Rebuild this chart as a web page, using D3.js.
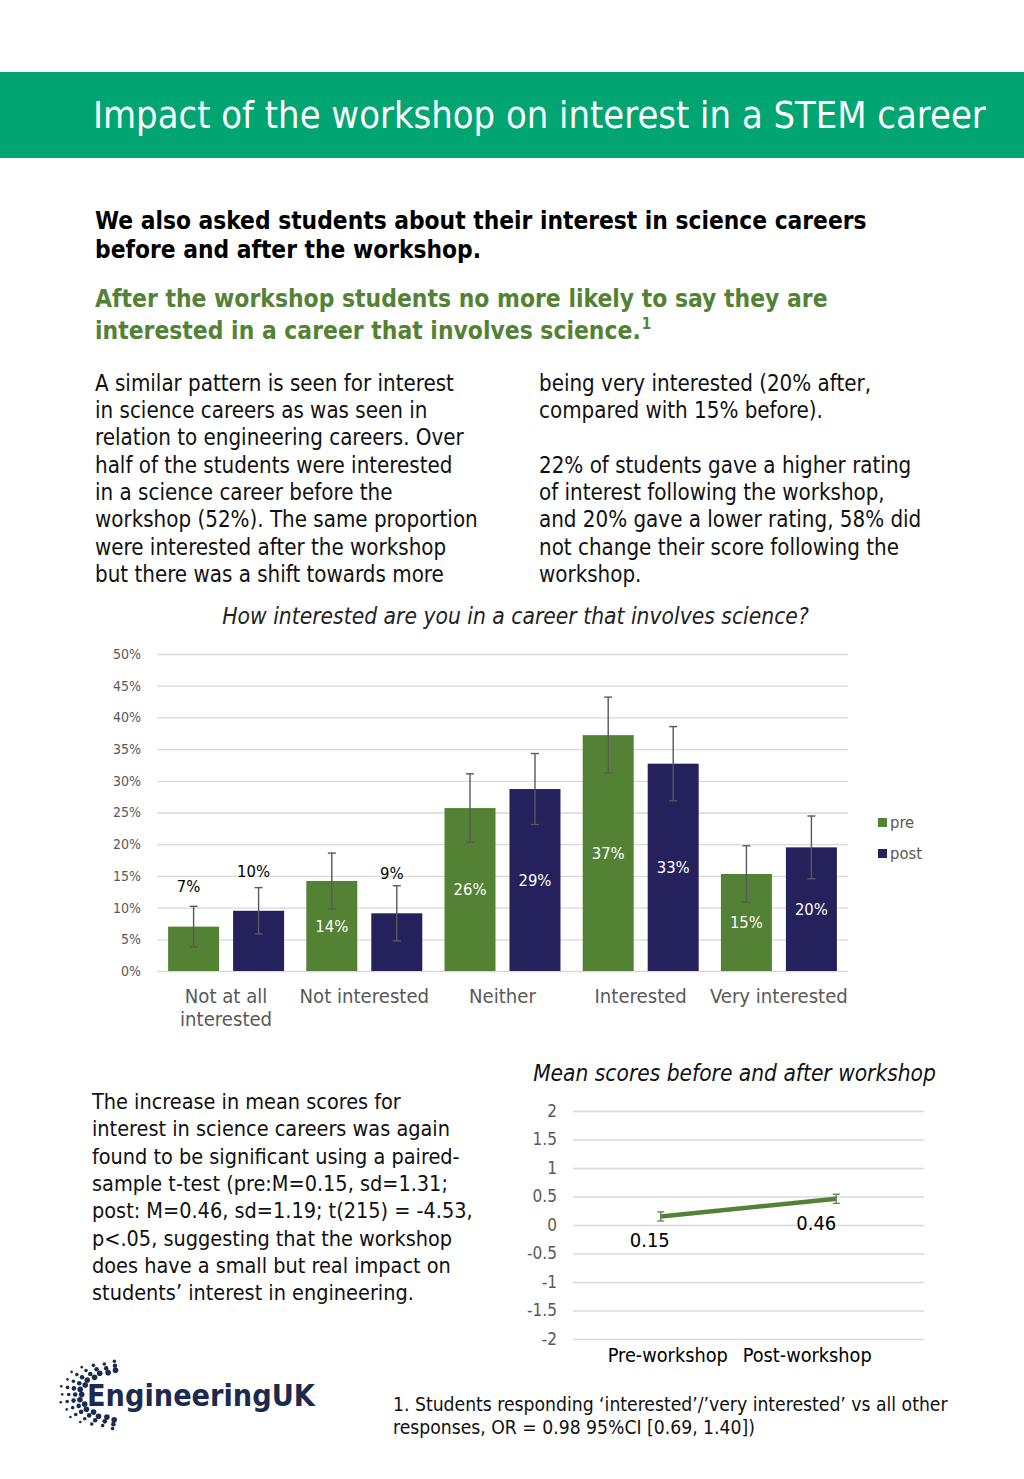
<!DOCTYPE html>
<html><head><meta charset="utf-8">
<script src="https://cdn.jsdelivr.net/npm/d3@7"></script>
<style>body{margin:0;background:#fff}svg{display:block}</style>
</head><body><svg id="c" width="1024" height="1479"></svg>
<script>
// ---------------- data ----------------
const categories = ["Not at all interested","Not interested","Neither","Interested","Very interested"];
const categoryLines = [["Not at all","interested"],["Not interested"],["Neither"],["Interested"],["Very interested"]];
const series = ["pre","post"];
const preValues = [7.0, 14.2, 25.7, 37.2, 15.3];
const postValues = [9.5, 9.1, 28.7, 32.7, 19.5];
const preErr = [3.2, 4.4, 5.4, 6.0, 4.45];
const postErr = [3.65, 4.35, 5.6, 5.85, 4.95];
const yTicks = [0, 5, 10, 15, 20, 25, 30, 35, 40, 45, 50];

const meanCategories = ["Pre-workshop", "Post-workshop"];
const meanValues = [0.15, 0.46];
const meanErr = [0.08, 0.08];
const meanTicks = [2, 1.5, 1, 0.5, 0, -0.5, -1, -1.5, -2];

const headerTitle = "Impact of the workshop on interest in a STEM career";
const introLines = ["We also asked students about their interest in science careers", "before and after the workshop."];
const keyLines = ["After the workshop students no more likely to say they are", "interested in a career that involves science."];
const leftCol = ["A similar pattern is seen for interest","in science careers as was seen in","relation to engineering careers. Over","half of the students were interested","in a science career before the","workshop (52%). The same proportion","were interested after the workshop","but there was a shift towards more"];
const rightCol = ["being very interested (20% after,","compared with 15% before).","","22% of students gave a higher rating","of interest following the workshop,","and 20% gave a lower rating, 58% did","not change their score following the","workshop."];
const lowerPara = ["The increase in mean scores for","interest in science careers was again","found to be significant using a paired-","sample t-test (pre:M=0.15, sd=1.31;","post: M=0.46, sd=1.19; t(215) = -4.53,","p<.05, suggesting that the workshop","does have a small but real impact on","students\u2019 interest in engineering."];
const footLines = ["1. Students responding \u2018interested\u2019/\u2019very interested\u2019 vs all other","responses, OR = 0.98 95%CI [0.69, 1.40])"];
const chartTitle = "How interested are you in a career that involves science?";
const meanTitle = "Mean scores before and after workshop";

// ---------------- style ----------------
const FONT = "'DejaVu Sans Condensed','DejaVu Sans',sans-serif";
const GREEN = "#548235", NAVY = "#24215c", HEAD = "#00a572", GRID = "#d9d9d9", AX = "#595959";

const svg = d3.select("#c");

function fitSize(text, width, weight, style) {
  const t = svg.append("text").attr("font-family", FONT).attr("font-size", 100)
    .attr("font-weight", weight || "normal").attr("font-style", style || "normal")
    .style("font-stretch", "condensed").text(text);
  const w = t.node().getComputedTextLength();
  t.remove();
  return 100 * width / w;
}
function lines(g, arr, x, y0, step, size, opts) {
  opts = opts || {};
  g.selectAll(null).data(arr).join("text")
    .attr("x", x).attr("y", (d, i) => y0 + i * step)
    .attr("font-family", FONT).style("font-stretch", "condensed")
    .attr("font-size", size).attr("font-weight", opts.weight || "normal")
    .attr("font-style", opts.style || "normal")
    .attr("fill", opts.fill || "#111").attr("text-anchor", opts.anchor || "start")
    .text(d => d);
}

// ---------------- header ----------------
svg.append("rect").attr("x", 0).attr("y", 72).attr("width", 1024).attr("height", 86).attr("fill", HEAD);
lines(svg, [headerTitle], 93, 128, 0, fitSize(headerTitle, 893), { fill: "#fff" });

// ---------------- intro text ----------------
const introSize = fitSize(introLines[0], 772, "bold");
lines(svg, introLines, 95, 229, 29, introSize, { weight: "bold", fill: "#000" });
const keySize = fitSize(keyLines[0], 733, "bold");
lines(svg, keyLines, 95, 307, 31.5, keySize, { weight: "bold", fill: GREEN });
{
  const t = svg.append("text").attr("font-family", FONT).style("font-stretch", "condensed")
    .attr("font-weight", "bold").attr("font-size", keySize).text(keyLines[1]);
  const w = t.node().getComputedTextLength(); t.remove();
  svg.append("text").attr("x", 95 + w + 1).attr("y", 329).attr("font-family", FONT)
    .style("font-stretch", "condensed").attr("font-weight", "bold")
    .attr("font-size", keySize * 0.62).attr("fill", GREEN).text("1");
}
const bodySize = fitSize(leftCol[5], 383);
lines(svg, leftCol, 95, 390.7, 27.3, bodySize);
lines(svg, rightCol, 539, 390.7, 27.3, bodySize);

// ---------------- bar chart ----------------
const cTitleSize = fitSize(chartTitle, 587, "normal", "italic");
lines(svg, [chartTitle], 515.5, 624, 0, cTitleSize, { style: "italic", anchor: "middle", fill: "#222" });

const x0 = d3.scaleBand().domain(categories).range([157, 848]).paddingInner(0).paddingOuter(0);
const x1 = d3.scaleBand().domain(series).range([0, x0.bandwidth()]).paddingInner(0.2154).paddingOuter(0.171);
const y = d3.scaleLinear().domain([0, 50]).range([971, 654]);

const bc = svg.append("g");
const yAxis = d3.axisLeft(y).tickValues(yTicks).tickFormat(d => d + "%").tickSize(-(848 - 157)).tickPadding(16);
const yg = bc.append("g").attr("transform", "translate(157,0)").call(yAxis);
yg.select(".domain").remove();
yg.selectAll(".tick line").attr("stroke", GRID).attr("stroke-width", 1.3);
yg.selectAll(".tick text").attr("fill", AX).attr("font-family", FONT).style("font-stretch", "condensed")
  .attr("font-size", fitSize("50%", 28));

const barData = [];
categories.forEach((c, i) => {
  barData.push({ cat: c, s: "pre", v: preValues[i], e: preErr[i] });
  barData.push({ cat: c, s: "post", v: postValues[i], e: postErr[i] });
});
const colorS = d3.scaleOrdinal().domain(series).range([GREEN, NAVY]);

bc.selectAll("rect.bar").data(barData).join("rect").attr("class", "bar")
  .attr("x", d => x0(d.cat) + x1(d.s)).attr("width", x1.bandwidth())
  .attr("y", d => y(d.v)).attr("height", d => y(0) - y(d.v)).attr("fill", d => colorS(d.s));

const eb = bc.selectAll("g.eb").data(barData).join("g").attr("class", "eb")
  .attr("transform", d => `translate(${x0(d.cat) + x1(d.s) + x1.bandwidth() / 2},0)`)
  .attr("stroke", "#595959").attr("stroke-width", 1.4);
eb.append("line").attr("y1", d => y(d.v - d.e)).attr("y2", d => y(d.v + d.e));
eb.append("line").attr("x1", -4).attr("x2", 4).attr("y1", d => y(d.v + d.e)).attr("y2", d => y(d.v + d.e));
eb.append("line").attr("x1", -4).attr("x2", 4).attr("y1", d => y(d.v - d.e)).attr("y2", d => y(d.v - d.e));

const lblSize = fitSize("26%", 33);
bc.selectAll("text.vl").data(barData).join("text").attr("class", "vl")
  .attr("x", d => x0(d.cat) + x1(d.s) + x1.bandwidth() / 2 + (d.v >= 12 ? 0 : -5))
  .attr("y", d => d.v >= 12 ? y(d.v / 2) : y(d.v) - 40)
  .attr("dy", "0.35em").attr("text-anchor", "middle")
  .attr("font-family", FONT).style("font-stretch", "condensed").attr("font-size", lblSize)
  .attr("fill", d => d.v >= 12 ? "#fff" : "#000")
  .text(d => Math.round(d.v) + "%");

const catSize = fitSize("Very interested", 138);
categories.forEach((c, i) => {
  lines(bc, categoryLines[i], x0(c) + x0.bandwidth() / 2, 1003, 23, catSize, { anchor: "middle", fill: AX });
});

const lg = bc.selectAll("g.lg").data(series).join("g").attr("class", "lg")
  .attr("transform", (d, i) => `translate(878,${818 + i * 31})`);
lg.append("rect").attr("width", 9).attr("height", 9).attr("fill", d => colorS(d));
lg.append("text").attr("x", 12).attr("y", 4.5).attr("dy", "0.35em").attr("fill", AX)
  .attr("font-family", FONT).style("font-stretch", "condensed").attr("font-size", fitSize("post", 32)).text(d => d);

// ---------------- lower paragraph ----------------
const lowSize = fitSize(lowerPara[4], 381);
lines(svg, lowerPara, 92, 1109, 27.3, lowSize);

// ---------------- mean chart ----------------
const mc = svg.append("g");
lines(mc, [meanTitle], 734.5, 1081, 0, fitSize(meanTitle, 403, "normal", "italic"), { style: "italic", anchor: "middle", fill: "#111" });
const mx = d3.scalePoint().domain(meanCategories).range([573, 924]).padding(0.5);
const my = d3.scaleLinear().domain([-2, 2]).range([1339, 1111]);
const myAxis = d3.axisLeft(my).tickValues(meanTicks).tickFormat(d => String(d)).tickSize(-(924 - 573)).tickPadding(16);
const mg = mc.append("g").attr("transform", "translate(573,0)").call(myAxis);
mg.select(".domain").remove();
mg.selectAll(".tick line").attr("stroke", GRID).attr("stroke-width", 1.3);
mg.selectAll(".tick text").attr("fill", AX).attr("font-family", FONT).style("font-stretch", "condensed")
  .attr("font-size", fitSize("-1.5", 30));

const mData = meanCategories.map((c, i) => ({ c, v: meanValues[i], e: meanErr[i] }));
mc.append("path").datum(mData)
  .attr("d", d3.line().x(d => mx(d.c)).y(d => my(d.v)))
  .attr("fill", "none").attr("stroke", GREEN).attr("stroke-width", 4.5);
const meb = mc.selectAll("g.meb").data(mData).join("g").attr("class", "meb")
  .attr("transform", d => `translate(${mx(d.c)},0)`).attr("stroke", "#6f7f5f").attr("stroke-width", 1.4);
meb.append("line").attr("y1", d => my(d.v - d.e)).attr("y2", d => my(d.v + d.e));
meb.append("line").attr("x1", -3.5).attr("x2", 3.5).attr("y1", d => my(d.v + d.e)).attr("y2", d => my(d.v + d.e));
meb.append("line").attr("x1", -3.5).attr("x2", 3.5).attr("y1", d => my(d.v - d.e)).attr("y2", d => my(d.v - d.e));
mc.selectAll("text.ml").data(mData).join("text").attr("class", "ml")
  .attr("x", (d, i) => mx(d.c) + (i === 0 ? -11 : -20)).attr("y", d => my(d.v) + 31)
  .attr("text-anchor", "middle").attr("font-family", FONT).style("font-stretch", "condensed")
  .attr("font-size", fitSize("0.15", 40)).attr("fill", "#000").text(d => d.v.toFixed(2));
const mcatSize = fitSize("Post-workshop", 129);
mc.selectAll("text.mc").data(meanCategories).join("text").attr("class", "mc")
  .attr("x", (d, i) => mx(d) + (i === 0 ? 7 : -29)).attr("y", 1362).attr("text-anchor", "middle")
  .attr("font-family", FONT).style("font-stretch", "condensed").attr("font-size", mcatSize)
  .attr("fill", "#000").text(d => d);

// ---------------- footnote ----------------
lines(svg, footLines, 393, 1411, 22.5, fitSize(footLines[0], 555));

// ---------------- logo ----------------
const logo = svg.append("g");
const dots = [];
for (let a = 95; a <= 265; a += 12) {
  for (let k = 0; k < 4; k++) {
    const jitter = ((a / 12) % 2) * 2.5;
    const rx = 35 + k * 6.5 + jitter, ry = 22 + k * 4.5 + jitter * 0.6;
    const rad = a * Math.PI / 180;
    if (k === 3 && (a < 125 || a > 235)) continue;
    dots.push({ x: 119 + rx * Math.cos(rad), y: 1395 - ry * Math.sin(rad), s: 2.8 - k * 0.5 });
  }
}
logo.selectAll("circle").data(dots).join("circle").attr("cx", d => d.x).attr("cy", d => d.y)
  .attr("r", d => d.s).attr("fill", "#1c2a4f");
logo.append("text").attr("x", 87).attr("y", 1406).attr("font-family", FONT).style("font-stretch", "condensed")
  .attr("font-weight", "bold").attr("font-size", fitSize("EngineeringUK", 228, "bold"))
  .attr("fill", "#1c2a4f").text("EngineeringUK");
</script></body></html>
